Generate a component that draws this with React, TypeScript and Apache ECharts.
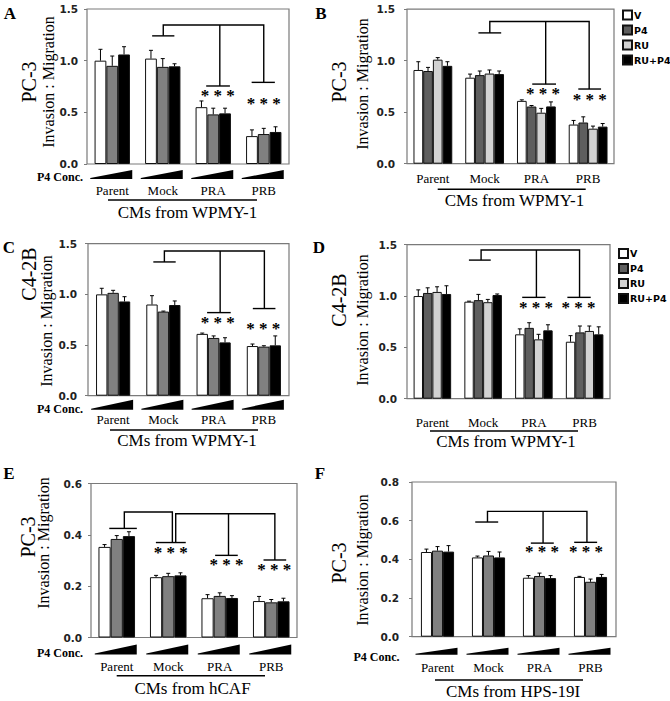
import React, { useEffect, useRef } from "react";
import * as echarts from "echarts";

const SERIF = '"Liberation Serif", "Times New Roman", serif';
const SANS = '"DejaVu Sans", Verdana, sans-serif';

const categories = ["Parent", "Mock", "PRA", "PRB"];
const legendNames = ["V", "P4", "RU", "RU+P4"];

// Panel A (PC-3, CMs from WPMY-1), increasing P4 concentration
const aLow = [1.0, 1.02, 0.55, 0.27];
const aLowErr = [0.11, 0.08, 0.06, 0.06];
const aMid = [0.95, 0.94, 0.48, 0.29];
const aMidErr = [0.095, 0.08, 0.06, 0.055];
const aHigh = [1.06, 0.945, 0.49, 0.31];
const aHighErr = [0.075, 0.025, 0.05, 0.05];

// Panel B (PC-3, treatments)
const bV = [0.91, 0.835, 0.61, 0.38];
const bVErr = [0.08, 0.035, 0.01, 0.04];
const bP4 = [0.9, 0.86, 0.555, 0.4];
const bP4Err = [0.035, 0.04, 0.01, 0.055];
const bRU = [1.01, 0.875, 0.495, 0.34];
const bRUErr = [0.02, 0.035, 0.042, 0.025];
const bRUP4 = [0.95, 0.87, 0.556, 0.36];
const bRUP4Err = [0.04, 0.03, 0.044, 0.03];

// Panel C (C4-2B, P4 concentration)
const cLow = [1.0, 0.9, 0.61, 0.49];
const cLowErr = [0.06, 0.087, 0.008, 0.02];
const cMid = [1.015, 0.83, 0.57, 0.484];
const cMidErr = [0.025, 0.005, 0.02, 0.009];
const cHigh = [0.93, 0.895, 0.526, 0.497];
const cHighErr = [0.047, 0.04, 0.046, 0.093];

// Panel D (C4-2B, treatments)
const dV = [1.0, 0.945, 0.627, 0.555];
const dVErr = [0.06, 0.005, 0.053, 0.059];
const dP4 = [1.03, 0.96, 0.69, 0.646];
const dP4Err = [0.05, 0.056, 0.05, 0.062];
const dRU = [1.04, 0.94, 0.578, 0.66];
const dRUErr = [0.05, 0.027, 0.049, 0.048];
const dRUP4 = [1.02, 1.01, 0.666, 0.627];
const dRUP4Err = [0.08, 0.01, 0.054, 0.073];

// Panel E (PC-3, CMs from hCAF)
const eLow = [0.353, 0.235, 0.153, 0.142];
const eLowErr = [0.009, 0.007, 0.014, 0.018];
const eMid = [0.384, 0.239, 0.162, 0.137];
const eMidErr = [0.013, 0.011, 0.012, 0.011];
const eHigh = [0.395, 0.242, 0.154, 0.141];
const eHighErr = [0.017, 0.01, 0.009, 0.012];

// Panel F (PC-3, CMs from HPS-19I)
const fLow = [0.438, 0.41, 0.305, 0.309];
const fLowErr = [0.015, 0.007, 0.011, 0.003];
const fMid = [0.445, 0.42, 0.314, 0.284];
const fMidErr = [0.021, 0.021, 0.015, 0.014];
const fHigh = [0.44, 0.41, 0.303, 0.309];
const fHighErr = [0.031, 0.028, 0.013, 0.013];

// Significance brackets, in (category position, value) units
const aBrackets = [
  [[0.79, 1.24], [1.23, 1.24]],
  [[1.01, 1.24], [1.01, 1.345], [3.0, 1.345], [3.0, 0.79]],
  [[2.13, 1.345], [2.13, 0.755]],
  [[1.86, 0.755], [2.33, 0.755]],
  [[2.76, 0.79], [3.22, 0.79]],
];
const aStars = [[2.09, 0.67], [3.0, 0.6]];

const bBrackets = [
  [[0.88, 1.27], [1.32, 1.27]],
  [[1.1, 1.27], [1.1, 1.38], [3.02, 1.38], [3.02, 0.725]],
  [[2.18, 1.38], [2.18, 0.773]],
  [[1.92, 0.773], [2.38, 0.773]],
  [[2.81, 0.725], [3.25, 0.725]],
];
const bStars = [[2.13, 0.69], [3.03, 0.63]];

const cBrackets = [
  [[0.8, 1.32], [1.245, 1.32]],
  [[1.02, 1.32], [1.02, 1.428], [3.01, 1.428], [3.01, 0.86]],
  [[2.13, 1.428], [2.13, 0.82]],
  [[1.87, 0.82], [2.34, 0.82]],
  [[2.78, 0.86], [3.23, 0.86]],
];
const cStars = [[2.08, 0.737], [2.99, 0.67]];

const dBrackets = [
  [[0.72, 1.35], [1.15, 1.35]],
  [[0.96, 1.35], [0.96, 1.448], [2.9, 1.448], [2.9, 0.987]],
  [[2.05, 1.448], [2.05, 0.987]],
  [[1.77, 0.987], [2.23, 0.987]],
  [[2.66, 0.987], [3.12, 0.987]],
];
const dStars = [[2.04, 0.896], [2.88, 0.896]];

const eBrackets = [
  [[-0.145, 0.425], [0.39, 0.425]],
  [[0.147, 0.425], [0.147, 0.489], [1.08, 0.489], [1.08, 0.37]],
  [[0.76, 0.37], [1.34, 0.37]],
  [[1.145, 0.37], [1.145, 0.482], [3.07, 0.482], [3.07, 0.302]],
  [[2.17, 0.482], [2.17, 0.32]],
  [[1.91, 0.32], [2.35, 0.32]],
  [[2.85, 0.302], [3.29, 0.302]],
];
const eStars = [[1.05, 0.335], [2.13, 0.288], [3.06, 0.27]];

const fBrackets = [
  [[0.74, 0.593], [1.19, 0.593]],
  [[0.98, 0.593], [0.98, 0.648], [2.93, 0.648], [2.93, 0.488]],
  [[2.07, 0.648], [2.07, 0.484]],
  [[1.83, 0.484], [2.28, 0.484]],
  [[2.68, 0.488], [3.13, 0.488]],
];
const fStars = [[2.05, 0.445], [2.91, 0.445]];

const threeColors = ["#ffffff", "#808080", "#000000"];
const fourColors = ["#ffffff", "#5e5e5e", "#d2d2d2", "#000000"];

type S = { name: string; values: number[]; errs: number[] };
type Panel = {
  grid: { left: number; top: number; width: number; height: number };
  yMax: number;
  yStep: number;
  gap: number;
  yMargin: number;
  xMargin: number;
  colors: string[];
  series: S[];
  brackets: number[][][];
  stars: number[][];
  wedge: number[] | null;
};

const panels: Panel[] = [
  {
    grid: { left: 87, top: 9, width: 202, height: 155 },
    yMax: 1.5, yStep: 0.5, gap: 0.3, yMargin: 9, xMargin: 19.5, colors: threeColors,
    series: [
      { name: "A1", values: aLow, errs: aLowErr },
      { name: "A2", values: aMid, errs: aMidErr },
      { name: "A3", values: aHigh, errs: aHighErr },
    ],
    brackets: aBrackets, stars: aStars, wedge: [6, 15],
  },
  {
    grid: { left: 407, top: 9.2, width: 207, height: 154.5 },
    yMax: 1.5, yStep: 0.5, gap: 0.25, yMargin: 12, xMargin: 8, colors: fourColors,
    series: [
      { name: "V", values: bV, errs: bVErr },
      { name: "P4", values: bP4, errs: bP4Err },
      { name: "RU", values: bRU, errs: bRUErr },
      { name: "RU+P4", values: bRUP4, errs: bRUP4Err },
    ],
    brackets: bBrackets, stars: bStars, wedge: null,
  },
  {
    grid: { left: 88, top: 243.7, width: 201, height: 152 },
    yMax: 1.5, yStep: 0.5, gap: 0.32, yMargin: 11, xMargin: 17.5, colors: threeColors,
    series: [
      { name: "C1", values: cLow, errs: cLowErr },
      { name: "C2", values: cMid, errs: cMidErr },
      { name: "C3", values: cHigh, errs: cHighErr },
    ],
    brackets: cBrackets, stars: cStars, wedge: [4, 14],
  },
  {
    grid: { left: 407, top: 244.7, width: 203, height: 154 },
    yMax: 1.5, yStep: 0.5, gap: 0.26, yMargin: 10, xMargin: 17, colors: fourColors,
    series: [
      { name: "V", values: dV, errs: dVErr },
      { name: "P4", values: dP4, errs: dP4Err },
      { name: "RU", values: dRU, errs: dRUErr },
      { name: "RU+P4", values: dRUP4, errs: dRUP4Err },
    ],
    brackets: dBrackets, stars: dStars, wedge: null,
  },
  {
    grid: { left: 91, top: 483.5, width: 206, height: 154 },
    yMax: 0.6, yStep: 0.2, gap: 0.29, yMargin: 9, xMargin: 22, colors: threeColors,
    series: [
      { name: "E1", values: eLow, errs: eLowErr },
      { name: "E2", values: eMid, errs: eMidErr },
      { name: "E3", values: eHigh, errs: eHighErr },
    ],
    brackets: eBrackets, stars: eStars, wedge: [7, 17],
  },
  {
    grid: { left: 412, top: 482, width: 204, height: 154.7 },
    yMax: 0.8, yStep: 0.2, gap: 0.35, yMargin: 13, xMargin: 24, colors: threeColors,
    series: [
      { name: "F1", values: fLow, errs: fLowErr },
      { name: "F2", values: fMid, errs: fMidErr },
      { name: "F3", values: fHigh, errs: fHighErr },
    ],
    brackets: fBrackets, stars: fStars, wedge: [11, 18],
  },
];

function catPoint(api: any, x: number, y: number) {
  const i = Math.round(x);
  const c = api.coord([i, y]);
  const band = api.size([1, 0])[0];
  return [c[0] + (x - i) * band, c[1]];
}

function buildOption() {
  const series: any[] = [];
  panels.forEach((p, pi) => {
    const n = p.series.length;
    p.series.forEach((s, j) => {
      series.push({
        type: "bar",
        name: s.name,
        xAxisIndex: pi,
        yAxisIndex: pi,
        data: s.values,
        barGap: "0%",
        barCategoryGap: Math.round(p.gap * 100) + "%",
        itemStyle: { color: p.colors[j], borderColor: "#111", borderWidth: 1 },
        silent: true,
        z: 2,
      });
    });
    const errData: number[][] = [];
    p.series.forEach((s, j) => s.values.forEach((v, k) => errData.push([k, j, v, s.errs[k]])));
    series.push({
      type: "custom",
      xAxisIndex: pi,
      yAxisIndex: pi,
      data: errData,
      encode: { x: 0, y: 2 },
      silent: true,
      z: 3,
      clip: false,
      renderItem: (params: any, api: any) => {
        const cat = api.value(0);
        const j = api.value(1);
        const v = api.value(2);
        const e = api.value(3);
        const band = api.size([1, 0])[0];
        const groupW = band * (1 - p.gap);
        const barW = groupW / n;
        const base = api.coord([cat, v]);
        const top = api.coord([cat, v + e]);
        const x = base[0] - groupW / 2 + barW * (j + 0.5);
        return {
          type: "group",
          children: [
            { type: "line", shape: { x1: x, y1: base[1], x2: x, y2: top[1] }, style: { stroke: "#000", lineWidth: 1 } },
            { type: "line", shape: { x1: x - 2, y1: top[1], x2: x + 2, y2: top[1] }, style: { stroke: "#000", lineWidth: 1 } },
          ],
        };
      },
    });
    series.push({
      type: "custom",
      xAxisIndex: pi,
      yAxisIndex: pi,
      data: [[0, 0]],
      encode: { x: 0, y: 1 },
      silent: true,
      z: 4,
      clip: false,
      renderItem: (params: any, api: any) => {
        const children: any[] = [];
        p.brackets.forEach((line) => {
          children.push({
            type: "polyline",
            shape: { points: line.map((pt) => catPoint(api, pt[0], pt[1])) },
            style: { stroke: "#000", lineWidth: 1.4, fill: null },
          });
        });
        p.stars.forEach((st) => {
          const c = catPoint(api, st[0], st[1]);
          children.push({
            type: "text",
            style: {
              text: "* * *",
              x: c[0],
              y: c[1] + 1,
              fill: "#000",
              fontFamily: "Liberation Serif",
              fontWeight: "bold",
              fontSize: 17,
              align: "center",
              verticalAlign: "middle",
            },
          });
        });
        return { type: "group", children };
      },
    });
    if (p.wedge) {
      const w = p.wedge;
      series.push({
        type: "custom",
        xAxisIndex: pi,
        yAxisIndex: pi,
        data: categories.map((_, k) => [k, 0]),
        encode: { x: 0, y: 1 },
        silent: true,
        z: 4,
        clip: false,
        renderItem: (params: any, api: any) => {
          const c = api.coord([api.value(0), 0]);
          const x0 = c[0] - 22;
          const x1 = c[0] + 20;
          const yb = c[1] + w[1];
          const yt = c[1] + w[0];
          return {
            type: "polygon",
            shape: { points: [[x0, yb - 1], [x1, yt], [x1, yb], [x0, yb]] },
            style: { fill: "#000" },
          };
        },
      });
    }
  });

  const text = (t: string, x: number, y: number, font: string, rot = 0, align = "center") => ({
    type: "text",
    x,
    y,
    rotation: rot,
    silent: true,
    style: { text: t, x: 0, y: 0, font, fill: "#000", align, verticalAlign: "middle" },
  });
  const hline = (x1: number, x2: number, y: number) => ({
    type: "line",
    silent: true,
    shape: { x1, y1: y, x2, y2: y },
    style: { stroke: "#000", lineWidth: 1.5 },
  });
  const R = Math.PI / 2;
  const letterFont = `bold 17px ${SERIF}`;
  const cellFont = `20px ${SERIF}`;
  const invFont = `16px ${SERIF}`;
  const cmFont = `17px ${SERIF}`;
  const concFont = `bold 12px ${SERIF}`;

  const graphic: any[] = [
    text("A", 10, 13, letterFont),
    text("B", 321, 13, letterFont),
    text("C", 9, 247, letterFont),
    text("D", 319, 247, letterFont),
    text("E", 9, 473, letterFont),
    text("F", 320, 473, letterFont),
    text("PC-3", 29, 82, cellFont, R),
    text("Invasion : Migration", 48, 82, invFont, R),
    text("PC-3", 339, 82, cellFont, R),
    text("Invasion : Migration", 362, 84, invFont, R),
    text("C4-2B", 29, 274, cellFont, R),
    text("Invasion : Migration", 46, 321, invFont, R),
    text("C4-2B", 339, 300, cellFont, R),
    text("Invasion : Migration", 362, 320, invFont, R),
    text("PC-3", 28, 537, cellFont, R),
    text("Invasion : Migration", 43, 543, invFont, R),
    text("PC-3", 339, 563, cellFont, R),
    text("Invasion : Migration", 362, 560, invFont, R),
    text("P4 Conc.", 60, 176.5, concFont),
    text("P4 Conc.", 60, 409, concFont),
    text("P4 Conc.", 60, 653, concFont),
    text("P4 Conc.", 376.5, 656.5, concFont),
    hline(108, 257, 200),
    text("CMs from WPMY-1", 187.5, 212, cmFont),
    hline(437.7, 585.7, 189.3),
    text("CMs from WPMY-1", 514.5, 200, cmFont),
    hline(110, 258, 430),
    text("CMs from WPMY-1", 187, 440, cmFont),
    hline(430, 578, 431),
    text("CMs from WPMY-1", 506, 441, cmFont),
    hline(116.7, 265, 675.7),
    text("CMs from hCAF", 192.5, 688, cmFont),
    hline(435, 583, 680),
    text("CMs from HPS-19I", 513, 691, cmFont),
  ];

  const legendBase = {
    orient: "vertical",
    icon: "rect",
    itemWidth: 9,
    itemHeight: 9,
    itemGap: 4,
    padding: 0,
    selectedMode: false,
    data: legendNames,
    textStyle: { fontFamily: SANS, fontWeight: "bold", fontSize: 9.5, color: "#000", lineHeight: 11, padding: [0, 0, 0, -3] },
  };

  return {
    animation: false,
    backgroundColor: "#ffffff",
    grid: panels.map((p) => ({ ...p.grid, show: true, borderColor: "#7a7a7a", borderWidth: 1.2, backgroundColor: "transparent" })),
    xAxis: panels.map((p, i) => ({
      type: "category",
      gridIndex: i,
      data: categories,
      axisLine: { show: false },
      axisTick: { show: false },
      axisLabel: { margin: p.xMargin, fontFamily: SERIF, fontSize: 13, color: "#000" },
    })),
    yAxis: panels.map((p, i) => ({
      type: "value",
      gridIndex: i,
      min: 0,
      max: p.yMax,
      interval: p.yStep,
      splitLine: { show: false },
      axisLine: { show: false },
      axisTick: { show: true, length: 3, lineStyle: { color: "#7a7a7a" } },
      axisLabel: {
        margin: p.yMargin,
        fontFamily: SANS,
        fontWeight: "bold",
        fontSize: 10.5,
        color: "#222",
        formatter: (v: number) => v.toFixed(1),
      },
    })),
    legend: [
      { ...legendBase, left: 622, top: 9.5 },
      { ...legendBase, left: 618, top: 248 },
    ],
    series,
    graphic,
  };
}

export default function App() {
  const ref = useRef<HTMLDivElement>(null);
  useEffect(() => {
    if (!ref.current) return;
    const chart = echarts.init(ref.current, undefined, { renderer: "svg" });
    chart.setOption(buildOption() as any);
    return () => chart.dispose();
  }, []);
  return (
    <div
      ref={ref}
      style={{ position: "fixed", left: 0, top: 0, width: 670, height: 701, background: "#fff" }}
    />
  );
}
